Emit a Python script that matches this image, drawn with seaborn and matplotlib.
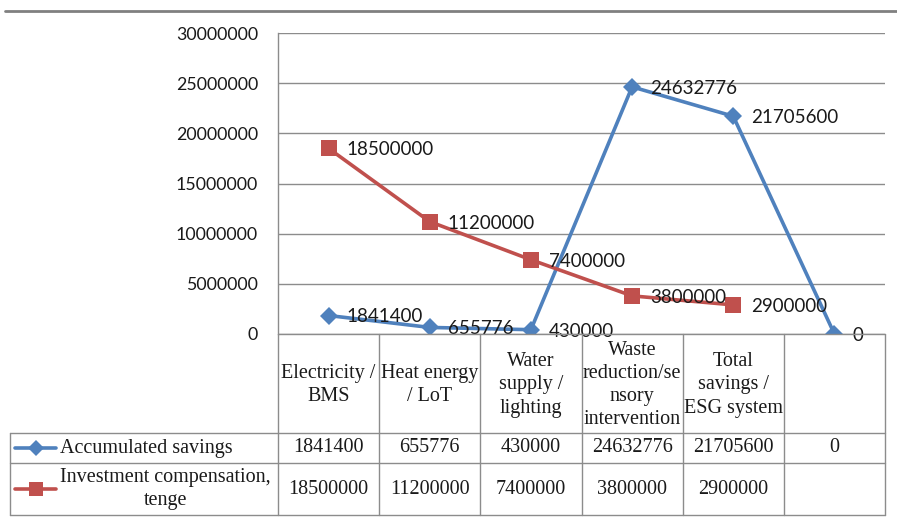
import numpy as np
import pandas as pd
import matplotlib
matplotlib.use("Agg")
import matplotlib.pyplot as plt
from matplotlib.lines import Line2D
from matplotlib.transforms import blended_transform_factory
import seaborn as sns

# ---- data ----
categories = ["Electricity /\nBMS", "Heat energy\n/ LoT", "Water\nsupply /\nlighting",
              "Waste\nreduction/se\nnsory\nintervention", "Total\nsavings /\nESG system", ""]
savings = [1841400, 655776, 430000, 24632776, 21705600, 0]
investment = [18500000, 11200000, 7400000, 3800000, 2900000, np.nan]
series_names = ["Accumulated savings", "Investment compensation,\ntenge"]
y_ticks = [0, 5000000, 10000000, 15000000, 20000000, 25000000, 30000000]

BLUE = "#4F81BD"
RED = "#C0504D"
GRID = "#8C8C8C"
TXT = "#1a1a1a"

sns.set_theme(style="white")
plt.rcParams["font.family"] = ["Lato", "DejaVu Sans"]

W, H = 897, 520
fig = plt.figure(figsize=(W / 100, H / 100), dpi=100)

def fx(px):
    return px / W

def fy(py):
    return 1 - py / H

ax = fig.add_axes([fx(278), fy(334), fx(885) - fx(278), fy(33) - fy(334)])

df = pd.DataFrame({"pos": np.arange(len(categories)),
                   "savings": savings,
                   "investment": investment})

sns.lineplot(data=df, x="pos", y="savings", ax=ax, color=BLUE, linewidth=2.6,
             marker="D", markersize=9, markeredgewidth=0, zorder=3)
sns.lineplot(data=df.dropna(), x="pos", y="investment", ax=ax, color=RED, linewidth=2.6,
             marker="s", markersize=11, markeredgewidth=0, zorder=4)

ax.set_xlim(-0.5, len(categories) - 0.5)
ax.set_ylim(0, 30000000)
ax.set_yticks(y_ticks)
ax.set_yticklabels([str(t) for t in y_ticks], fontsize=12.8, color=TXT)
ax.tick_params(axis="y", length=0, pad=14.5)
ax.set_xticks([])
ax.set_xlabel("")
ax.set_ylabel("")
ax.yaxis.grid(True, color=GRID, linewidth=1)
ax.xaxis.grid(False)
for side in ["top", "right", "bottom"]:
    ax.spines[side].set_visible(False)
ax.spines["left"].set_color(GRID)
ax.spines["left"].set_linewidth(1)

# data labels to the right of each marker
for i, v in enumerate(savings):
    ax.annotate(str(v), (i, v), xytext=(13, -1), textcoords="offset points",
                ha="left", va="center", fontsize=13.5, color=TXT, zorder=6)
for i, v in enumerate(investment):
    if not np.isnan(v):
        ax.annotate(str(int(v)), (i, v), xytext=(13, -1), textcoords="offset points",
                    ha="left", va="center", fontsize=13.5, color=TXT, zorder=6)

# ---- data table below the plot ----
tx = blended_transform_factory(ax.transData, fig.transFigure)
serif = ["Liberation Serif", "DejaVu Serif"]
tfs = 14.5
lsp = 1.3

def hline(x0, x1, py, trans=fig.transFigure, lw=1):
    fig.add_artist(Line2D([x0, x1], [fy(py), fy(py)], transform=trans, color=GRID, lw=lw))

def vline(x, py0, py1, trans):
    fig.add_artist(Line2D([x, x], [fy(py0), fy(py1)], transform=trans, color=GRID, lw=1))

# axis line and row separators
hline(fx(278), fx(885), 334)
for py in (433, 463, 515):
    hline(fx(10), fx(885), py)
vline(fx(10), 433, 515, fig.transFigure)
for k in range(len(categories) + 1):
    vline(k - 0.5, 334, 515, tx)

# category labels
for i, c in enumerate(categories):
    fig.text(i, fy(385), c, transform=tx, ha="center", va="center", multialignment="center",
             fontsize=tfs, family=serif, color=TXT, linespacing=lsp)

# legend keys + series names
rows = [(448, BLUE, "D", 8, savings), (489, RED, "s", 10, investment)]
for (py, col, mk, ms, vals), name in zip(rows, series_names):
    fig.add_artist(Line2D([fx(15), fx(56)], [fy(py), fy(py)], transform=fig.transFigure,
                          color=col, lw=2.6))
    fig.add_artist(Line2D([fx(35.5)], [fy(py)], transform=fig.transFigure, color=col,
                          marker=mk, markersize=ms, markeredgewidth=0))
    fig.text(fx(60), fy(py), name, ha="left", va="center", multialignment="center",
             fontsize=tfs, family=serif, color=TXT, linespacing=lsp)
    for i, v in enumerate(vals):
        if not (isinstance(v, float) and np.isnan(v)):
            fig.text(i, fy(py), str(int(v)), transform=tx, ha="center", va="center",
                     fontsize=tfs, family=serif, color=TXT)

# rule across the top
fig.add_artist(Line2D([fx(5), 1], [fy(11), fy(11)], transform=fig.transFigure,
                      color="#808080", lw=2))

fig.savefig("out.png", dpi=100, facecolor="white")
